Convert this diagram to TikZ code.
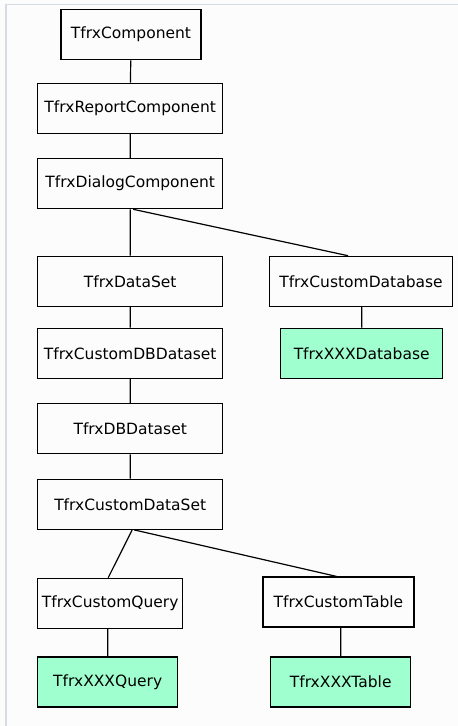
\documentclass[tikz,border=0pt]{standalone}
\usepackage{fontspec}
\setmainfont{DejaVu Sans}
\usepackage{tikz}
\usetikzlibrary{positioning}

\definecolor{stubgreen}{RGB}{160,255,206}
\definecolor{framegray}{RGB}{214,220,228}

\begin{document}
\begin{tikzpicture}[x=1pt, y=-1pt,
        box/.style={draw, rectangle, line width=1.2pt, minimum height=50pt,
                    inner sep=0pt, font=\fontsize{15.5}{18}\selectfont},
        stub/.style={box, fill=stubgreen},
        link/.style={line width=1.2pt}]

        \useasboundingbox (0,0) rectangle (458,726);
        \fill[white!98!gray] (0,0) rectangle (458,726);
        \draw[framegray, line width=1.5pt] (6,726) -- (6,4.5) -- (458,4.5);

        % Draw the classes
        \node[box, minimum width=140pt] at (131, 34.7)   (comp)        {TfrxComponent};
        \node[box, minimum width=185pt] at (130.2, 108.3) (report)     {TfrxReportComponent};
        \node[box, minimum width=185pt] at (130.2, 183.7) (dialog)     {TfrxDialogComponent};
        \node[box, minimum width=185pt] at (130.2, 281.3) (dataset)    {TfrxDataSet};
        \node[box, minimum width=183pt] at (361, 281.3)   (customdb)   {TfrxCustomDatabase};
        \node[stub, minimum width=162pt] at (361.7, 353.3) (xxxdb)     {TfrxXXXDatabase};
        \node[box, minimum width=185pt] at (130.2, 353.3) (customdbds) {TfrxCustomDBDataset};
        \node[box, minimum width=185pt] at (130.2, 428.7) (dbds)       {TfrxDBDataset};
        \node[box, minimum width=185pt] at (130.2, 504.3) (customds)   {TfrxCustomDataSet};
        \node[box, minimum width=145pt] at (110.2, 603.3) (customquery) {TfrxCustomQuery};
        \node[box, minimum width=151pt] at (338.5, 602)   (customtable) {TfrxCustomTable};
        \node[stub, minimum width=140pt] at (107.7, 682)  (xxxquery)   {TfrxXXXQuery};
        \node[stub, minimum width=140pt] at (340.7, 682)  (xxxtable)   {TfrxXXXTable};

        % Connect the classes
        \draw[link]
            (comp)       -- (report)
            (report)     -- (dialog)
            (dialog)     -- (dataset)
            ([xshift=3pt]dialog.south) -- ([xshift=-13pt]customdb.north)
            (customdb.south -| xxxdb) -- (xxxdb.north)
            (dataset)    -- (customdbds)
            (customdbds) -- (dbds)
            (dbds)       -- (customds)
            ([xshift=2pt]customds.south) -- ([xshift=-2pt]customquery.north)
            ([xshift=4pt]customds.south) -- ([xshift=-2pt]customtable.north)
            (customquery.south -| xxxquery) -- (xxxquery.north)
            (customtable.south -| xxxtable) -- (xxxtable.north);
\end{tikzpicture}
\end{document}
